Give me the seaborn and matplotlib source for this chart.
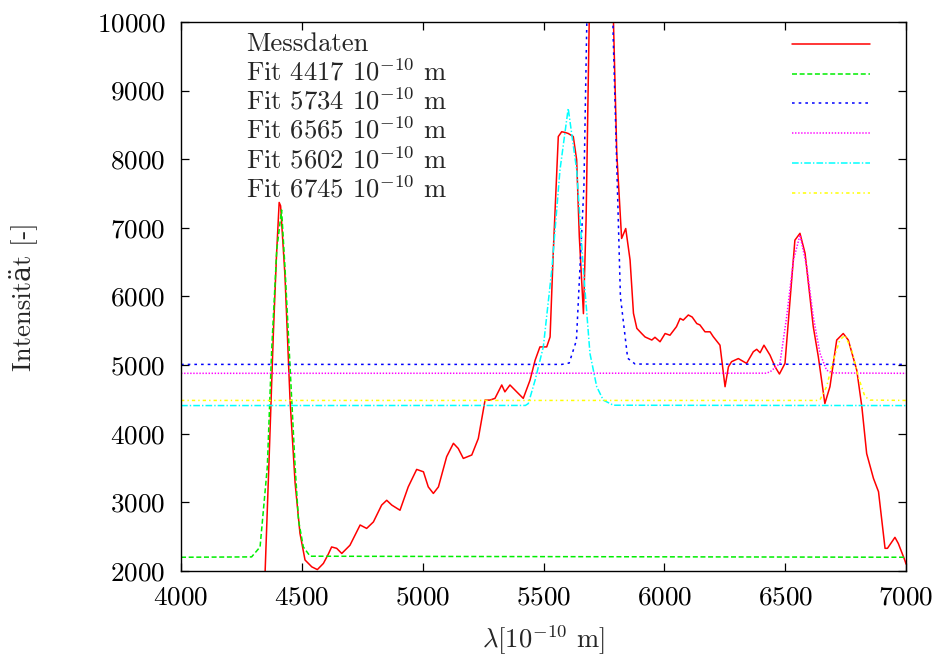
import matplotlib
matplotlib.use("Agg")
import matplotlib.pyplot as plt
import seaborn as sns
import pandas as pd

# ------------------------------
# Messdaten (abgelesen)
# ------------------------------
mess_x = [4340, 4348, 4365, 4382, 4395, 4406, 4412, 4430, 4451, 4472, 4492, 4513,
          4541, 4564, 4589, 4610, 4623, 4644, 4665, 4699, 4741, 4768, 4796, 4830,
          4851, 4872, 4906, 4940, 4975, 5003, 5023, 5044, 5065, 5099, 5127, 5147,
          5168, 5203, 5230, 5258, 5278, 5299, 5327, 5340, 5361, 5389, 5416, 5444,
          5465, 5485, 5513, 5527, 5540, 5561, 5575, 5589, 5602, 5623, 5637, 5648,
          5665, 5676, 5700, 5740, 5775, 5803, 5823, 5840, 5858, 5872, 5886, 5906,
          5920, 5948, 5961, 5982, 6003, 6023, 6050, 6065, 6078, 6099, 6115, 6134,
          6147, 6168, 6189, 6202, 6230, 6251, 6265, 6278, 6306, 6340, 6368, 6382,
          6396, 6412, 6437, 6458, 6476, 6499, 6520, 6540, 6561, 6582, 6616, 6637,
          6664, 6685, 6713, 6740, 6761, 6796, 6817, 6837, 6865, 6886, 6913, 6923,
          6954, 6968, 6995, 7000]
mess_y = [1600, 2000, 3700, 5460, 6600, 7370, 7320, 6300, 4490, 3280, 2550, 2160,
          2060, 2020, 2110, 2250, 2350, 2330, 2255, 2375, 2670, 2620, 2715, 2960,
          3030, 2960, 2885, 3225, 3480, 3445, 3225, 3130, 3225, 3665, 3860, 3785,
          3640, 3690, 3930, 4490, 4490, 4515, 4710, 4610, 4710, 4610, 4515, 4780,
          5070, 5265, 5265, 5410, 6630, 8330, 8400, 8390, 8375, 8330, 7990, 6870,
          5750, 7115, 12500, 13500, 12000, 8085, 6845, 6990, 6530, 5755, 5535, 5460,
          5410, 5365, 5405, 5340, 5460, 5435, 5560, 5680, 5655, 5730, 5700, 5605,
          5585, 5485, 5485, 5415, 5290, 4685, 4975, 5050, 5095, 5025, 5195, 5230,
          5180, 5290, 5145, 4975, 4870, 5025, 5950, 6820, 6920, 6630, 5560, 5120,
          4440, 4685, 5365, 5460, 5365, 4925, 4395, 3710, 3350, 3155, 2330, 2330,
          2490, 2400, 2155, 2100]

# ------------------------------
# Fitkurven
# ------------------------------
fit4417_x = [4000, 4292, 4327, 4357, 4375, 4396, 4416, 4430, 4451, 4472, 4486, 4506, 4534, 7000]
fit4417_y = [2200, 2205, 2350, 3520, 5220, 6680, 7260, 6430, 4980, 3520, 2740, 2350, 2215, 2200]

fit5734_x = [4000, 5576, 5606, 5636, 5667, 5697, 5727, 5758, 5788, 5818, 5848, 5879, 7000]
fit5734_y = [5010, 5010, 5030, 5360, 7600, 13600, 19500, 16800, 9800, 6000, 5100, 5015, 5010]

fit6565_x = [4000, 6420, 6437, 6478, 6506, 6534, 6561, 6589, 6616, 6644, 6671, 6700, 7000]
fit6565_y = [4880, 4882, 4900, 5025, 5705, 6530, 6895, 6435, 5705, 5170, 4925, 4885, 4880]

fit5602_x = [4000, 5425, 5437, 5465, 5499, 5534, 5568, 5602, 5637, 5665, 5692, 5720, 5747, 5789, 7000]
fit5602_y = [4410, 4412, 4440, 4780, 5265, 6385, 7845, 8740, 7845, 6385, 5170, 4685, 4490, 4415, 4410]

fit6745_x = [4000, 6630, 6644, 6671, 6699, 6726, 6747, 6775, 6802, 6830, 6851, 7000]
fit6745_y = [4485, 4485, 4495, 4685, 5075, 5365, 5435, 5220, 4830, 4540, 4490, 4485]

labels = ["Messdaten",
          r"Fit 4417 $10^{-10}$ m",
          r"Fit 5734 $10^{-10}$ m",
          r"Fit 6565 $10^{-10}$ m",
          r"Fit 5602 $10^{-10}$ m",
          r"Fit 6745 $10^{-10}$ m"]

# ------------------------------
# Stil
# ------------------------------
sns.set_style("ticks")
plt.rcParams["font.family"] = ["cmr10", "DejaVu Serif"]
plt.rcParams["mathtext.fontset"] = "cm"
plt.rcParams["axes.formatter.use_mathtext"] = True
plt.rcParams["axes.unicode_minus"] = False
plt.rcParams["lines.scale_dashes"] = False
FS = 19.6
FS_KEY = 19.2

fig = plt.figure(figsize=(9.4, 6.61), dpi=100)
ax = fig.add_axes([0.1926, 0.1362, 0.7713, 0.8306])

series = [
    (mess_x, mess_y, "#ff0000", "-"),
    (fit4417_x, fit4417_y, "#00ee00", (0, (3.6, 1.9))),
    (fit5734_x, fit5734_y, "#0000ff", (0, (1.9, 2.9))),
    (fit6565_x, fit6565_y, "#ff00ff", (0, (1.0, 1.2))),
    (fit5602_x, fit5602_y, "#00ffff", (0, (4.8, 1.5, 1.0, 1.5))),
    (fit6745_x, fit6745_y, "#ffff00", (0, (2.4, 2.2, 1.0, 2.2))),
]

for xs, ys, col, ls in series:
    df = pd.DataFrame({"x": xs, "y": ys})
    sns.lineplot(data=df, x="x", y="y", ax=ax, color=col, linestyle=ls,
                 linewidth=1.1, estimator=None)

ax.set_xlim(4000, 7000)
ax.set_ylim(2000, 10000)
ax.set_xticks(range(4000, 7001, 500))
ax.set_yticks(range(2000, 10001, 1000))
ax.tick_params(direction="in", top=True, right=True, length=5.8, width=0.9,
               labelsize=FS, pad=11, colors="black")
for sp in ax.spines.values():
    sp.set_linewidth(1.0)
    sp.set_color("black")

ax.set_xlabel(r"$\lambda$[$10^{-10}$ m]", fontsize=FS_KEY, labelpad=10)
ax.set_ylabel("Intensität [-]", fontsize=FS_KEY, labelpad=43)

# Legende im gnuplot-Stil: Text links, Linien rechts
for i, lab in enumerate(labels):
    ax.text(0.0897, 0.9472 - i * 0.0534, lab, transform=ax.transAxes,
            fontsize=FS_KEY, ha="left", va="baseline")

handles = ax.lines[:len(labels)]
ax.legend(handles, [""] * len(handles), loc="upper right",
          bbox_to_anchor=(0.9503, 0.9775), frameon=False, fontsize=FS,
          handlelength=78 / (FS * 100 / 72), handletextpad=0.0, borderpad=0.0,
          borderaxespad=0.0, labelspacing=0.21)

fig.savefig("out.png", dpi=100)
